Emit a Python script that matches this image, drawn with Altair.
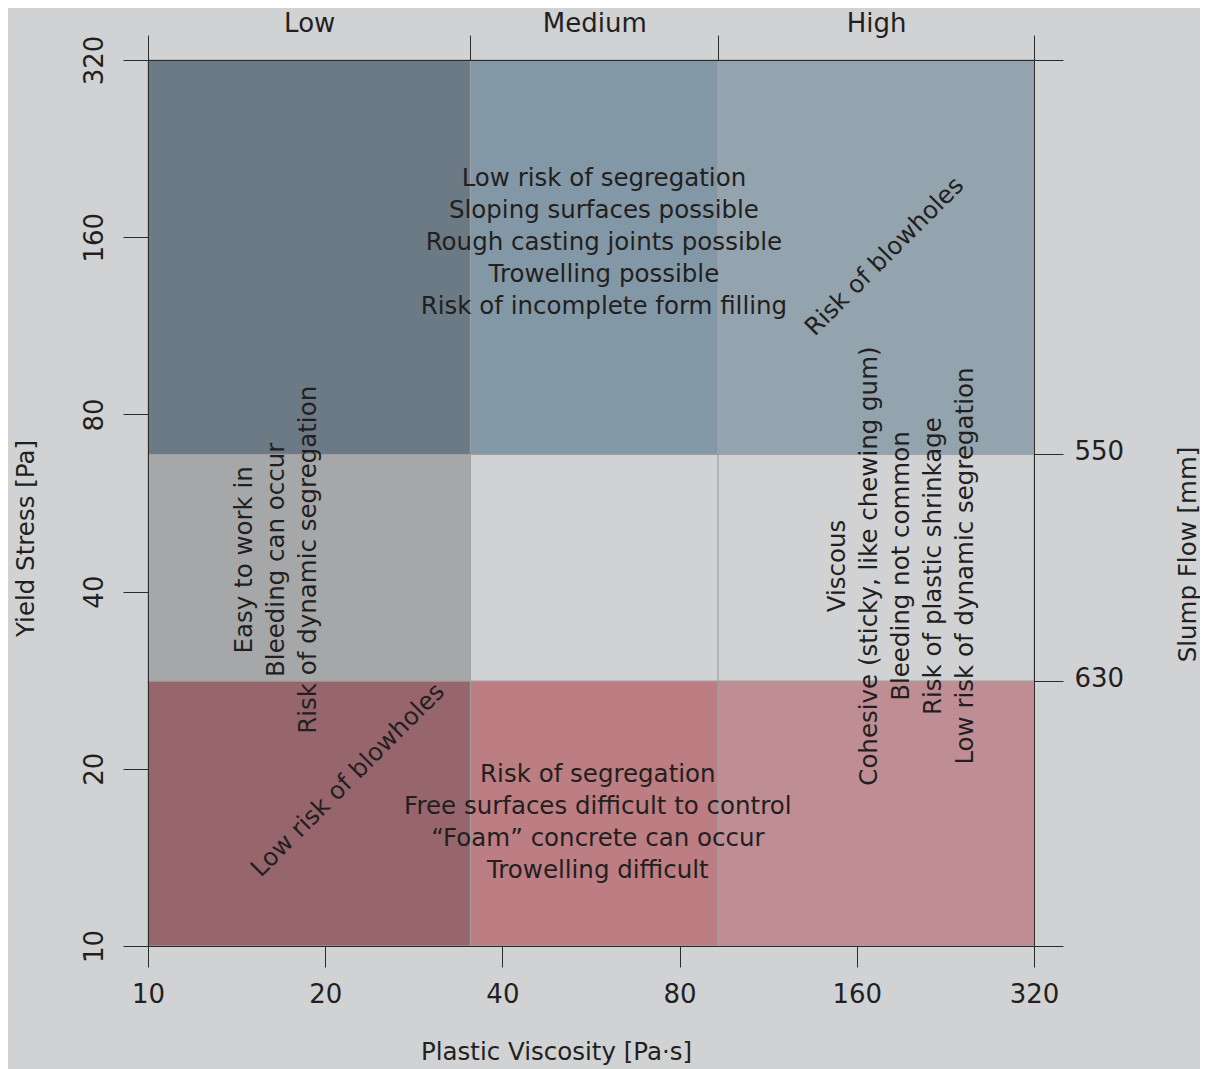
import altair as alt
import numpy as np
import pandas as pd

# ---------------- data ----------------
viscosity_bounds = [10, 35.3, 93.0, 320]          # Low | Medium | High  (Pa·s)
yield_bounds = [10, 28.2, 68.4, 320]              # yield stress class limits (Pa)
viscosity_classes = ["Low", "Medium", "High"]
slump_flow_labels = ["630", "550"]
slump_flow_at = [28.2, 68.4]
axis_ticks = [10, 20, 40, 80, 160, 320]

# rows bottom -> top, columns Low -> High
cell_colors = [
    ["#97666c", "#bc7d83", "#bf8e95"],
    ["#a6a7a9", "#d1d2d4", "#d1d2d4"],
    ["#6c7a85", "#8398a6", "#93a4ae"],
]

ann_lines = [
    ["Low risk of segregation", "Sloping surfaces possible", "Rough casting joints possible",
     "Trowelling possible", "Risk of incomplete form filling"],
    ["Risk of segregation", "Free surfaces difficult to control",
     "\u201cFoam\u201d concrete can occur", "Trowelling difficult"],
    ["Easy to work in", "Bleeding can occur", "Risk of dynamic segregation"],
    ["Viscous", "Cohesive (sticky, like chewing gum)", "Bleeding not common",
     "Risk of plastic shrinkage", "Low risk of dynamic segregation"],
    ["Risk of blowholes"],
    ["Low risk of blowholes"],
]
# anchor = position of the first line of each note
ann_x = [59.5, 58.1, 14.63, 148.7, 178.6, 21.9]
ann_y = [200.9, 19.5, 45.3, 44.2, 148.1, 19.1]
ann_angle = [0, 0, 270, 270, 315, 315]

# ---------------- tables ----------------
cells = []
for r in range(3):
    for c in range(3):
        cells.append({
            "x0": viscosity_bounds[c], "x1": viscosity_bounds[c + 1],
            "y0": yield_bounds[r], "y1": yield_bounds[r + 1],
            "fill": cell_colors[r][c],
        })
cells_df = pd.DataFrame(cells)

ann_df = pd.DataFrame({
    "x": ann_x, "y": ann_y, "angle": ann_angle,
    "txt": ["\n".join(l) for l in ann_lines],
})

class_mid = [round(float(np.sqrt(viscosity_bounds[i] * viscosity_bounds[i + 1])), 3) for i in range(3)]
top_values = sorted(viscosity_bounds + class_mid)
top_expr = " : ".join(f"datum.value == {m} ? '{n}'" for m, n in zip(class_mid, viscosity_classes)) + " : ''"
right_values = [10] + slump_flow_at + [320]
right_expr = " : ".join(f"datum.value == {v} ? '{n}'" for v, n in zip(slump_flow_at, slump_flow_labels)) + " : ''"
mid_list = "[" + ",".join(str(m) for m in class_mid) + "]"

FONT = "DejaVu Sans"
INK = "#231f20"
LINE = "#2b2b2b"

xs = alt.Scale(type="log", base=2, domain=[10, 320], nice=False)
ys = alt.Scale(type="log", base=2, domain=[10, 320], nice=False)

common = dict(grid=False, zindex=1, domainColor=LINE, domainWidth=1, tickColor=LINE, tickWidth=1,
              labelFont=FONT, labelFontSize=26, labelColor=INK, labelFlush=False, labelOverlap=False,
              titleFont=FONT, titleFontSize=24.5, titleColor=INK, titleFontWeight="normal")

bottom_axis = alt.Axis(orient="bottom", values=axis_ticks, format="d", tickSize=21, labelPadding=35,
                       labelBaseline="alphabetic", title="Plastic Viscosity [Pa\u00b7s]",
                       titleX=408, titleY=113, titleAngle=0, titleAlign="center",
                       titleBaseline="alphabetic", **common)
left_axis = alt.Axis(orient="left", values=axis_ticks, format="d", tickSize=25, labelPadding=21,
                     labelAngle=270, labelAlign="center", labelBaseline="alphabetic",
                     title="Yield Stress [Pa]", titleAngle=270, titleX=-115, titleY=478,
                     titleAlign="center", titleBaseline="alphabetic", **common)
top_axis = alt.Axis(orient="top", values=top_values, labelExpr=top_expr, tickSize=25, labelPadding=4,
                    labelBaseline="alphabetic", labelAngle=0,
                    tickOpacity={"condition": {"test": f"indexof({mid_list}, datum.value) >= 0", "value": 0},
                                 "value": 1},
                    title="", **common)
right_axis = alt.Axis(orient="right", values=right_values, labelExpr=right_expr, tickSize=29,
                      labelPadding=11, labelBaseline="alphabetic", labelAlign="left", labelOffset=5.5,
                      labelAngle=0,
                      title="Slump Flow [mm]", titleAngle=270, titleX=161, titleY=494,
                      titleAlign="center", titleBaseline="alphabetic", **common)

rects = alt.Chart(cells_df).mark_rect(stroke="#a0a1a4", strokeWidth=1).encode(
    x=alt.X("x0:Q", scale=xs, axis=bottom_axis),
    x2="x1:Q",
    y=alt.Y("y0:Q", scale=ys, axis=left_axis),
    y2="y1:Q",
    color=alt.Color("fill:N", scale=None),
)

texts = alt.Chart(ann_df).mark_text(
    font=FONT, fontSize=24.5, color=INK, align="center", baseline="middle",
    lineBreak="\n", lineHeight=32,
).encode(
    x=alt.X("x:Q", scale=xs, axis=top_axis),
    y=alt.Y("y:Q", scale=ys, axis=right_axis),
    text="txt:N",
    angle=alt.Angle("angle:Q", scale=None),
)

chart = alt.layer(rects, texts).resolve_axis(x="independent", y="independent").properties(
    width=886, height=886,
    autosize=alt.AutoSizeParams(type="none"),
    padding={"left": 140, "top": 52, "right": 166, "bottom": 124},
).configure(background="#d1d2d4").configure_view(strokeWidth=0)

chart.save("out.html", embed_options={"renderer": "svg", "actions": False})
